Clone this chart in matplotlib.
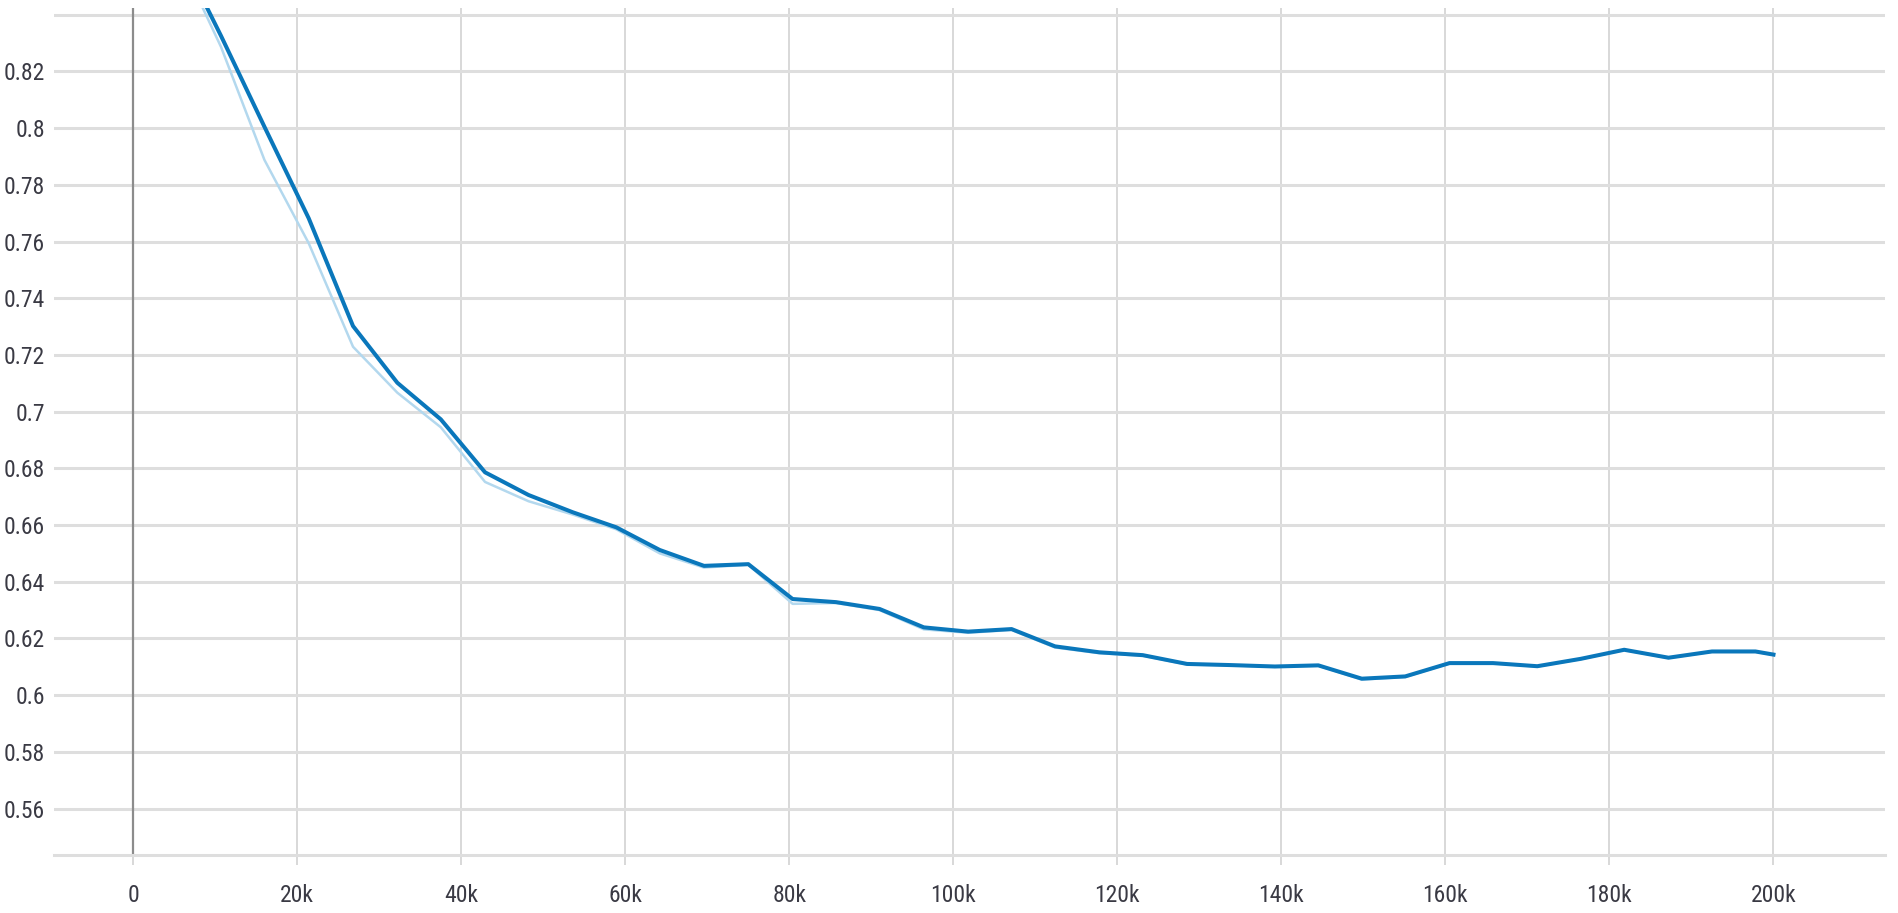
import matplotlib
matplotlib.use("Agg")
import matplotlib.pyplot as plt
from matplotlib.ticker import FuncFormatter, MultipleLocator

# steps (in thousands)
steps_k = [5.3, 10.7, 16.0, 21.4, 26.8, 32.2, 37.5, 42.9, 48.2, 53.6, 58.9, 64.2,
           69.6, 75.0, 80.4, 85.7, 91.0, 96.4, 101.8, 107.1, 112.4, 117.8, 123.1,
           128.5, 133.8, 139.2, 144.5, 149.8, 155.1, 160.5, 165.8, 171.2, 176.5,
           181.8, 187.2, 192.5, 197.8, 200.0]

# smoothed curve (dark)
smoothed = [0.864, 0.8326, 0.8005, 0.7682, 0.7302, 0.7102, 0.6973, 0.6786, 0.6706,
            0.6645, 0.6592, 0.6512, 0.6456, 0.6462, 0.6339, 0.6328, 0.6304, 0.6239,
            0.6224, 0.6233, 0.6172, 0.6151, 0.6141, 0.6110, 0.6106, 0.6101, 0.6105,
            0.6058, 0.6066, 0.6113, 0.6113, 0.6102, 0.6128, 0.6160, 0.6132, 0.6154,
            0.6154, 0.6143]

# raw curve (light)
raw = [0.862, 0.8287, 0.7888, 0.7594, 0.7229, 0.7067, 0.6945, 0.6752, 0.6684,
       0.6637, 0.6585, 0.6500, 0.6450, 0.6460, 0.6322, 0.6325, 0.6300, 0.6232,
       0.6220, 0.6230, 0.6168, 0.6148, 0.6139, 0.6108, 0.6105, 0.6100, 0.6104,
       0.6055, 0.6064, 0.6112, 0.6112, 0.6101, 0.6127, 0.6159, 0.6131, 0.6153,
       0.6153, 0.6142]

steps = [s * 1000 for s in steps_k]

plt.rcParams['font.family'] = ['Roboto Condensed', 'Liberation Sans', 'DejaVu Sans']


def ylabel(v, pos):
    if v > 0.835:
        return ''  # top gridline has no label in the original
    return '%g' % round(v, 2)


def xlabel(v, pos):
    return '0' if v == 0 else '%dk' % round(v / 1000)


fig = plt.figure(figsize=(18.98, 9.13), dpi=100)
ax = fig.add_axes([54/1898, 58/913, (1885-54)/1898, (855-8)/913])

ax.plot(steps, raw, color='#b3d8ee', lw=1.8, zorder=3)
ax.plot(steps, smoothed, color='#0a77bb', lw=2.9, zorder=4)
ax.axvline(0, color='#8c8c8c', lw=1.6, zorder=2)

ax.set_xlim(-9660, 213600)
ax.set_ylim(0.5436, 0.8424)

ax.xaxis.set_major_locator(MultipleLocator(20000))
ax.yaxis.set_major_locator(MultipleLocator(0.02))
ax.xaxis.set_major_formatter(FuncFormatter(xlabel))
ax.yaxis.set_major_formatter(FuncFormatter(ylabel))

ax.grid(True, axis='y', color='#dedede', lw=2.2, zorder=0)
ax.grid(True, axis='x', color='#d2d2d2', lw=1.2, zorder=0)

for s in ['top', 'right', 'left']:
    ax.spines[s].set_visible(False)
ax.spines['bottom'].set_color('#dedede')
ax.spines['bottom'].set_linewidth(2.2)

ax.tick_params(axis='y', length=0, pad=6.5, labelsize=17, labelcolor='#3a3a44')
ax.tick_params(axis='x', length=7, width=1.2, color='#d2d2d2', pad=14,
               labelsize=17, labelcolor='#3a3a44')

fig.savefig('out.png', dpi=100)
